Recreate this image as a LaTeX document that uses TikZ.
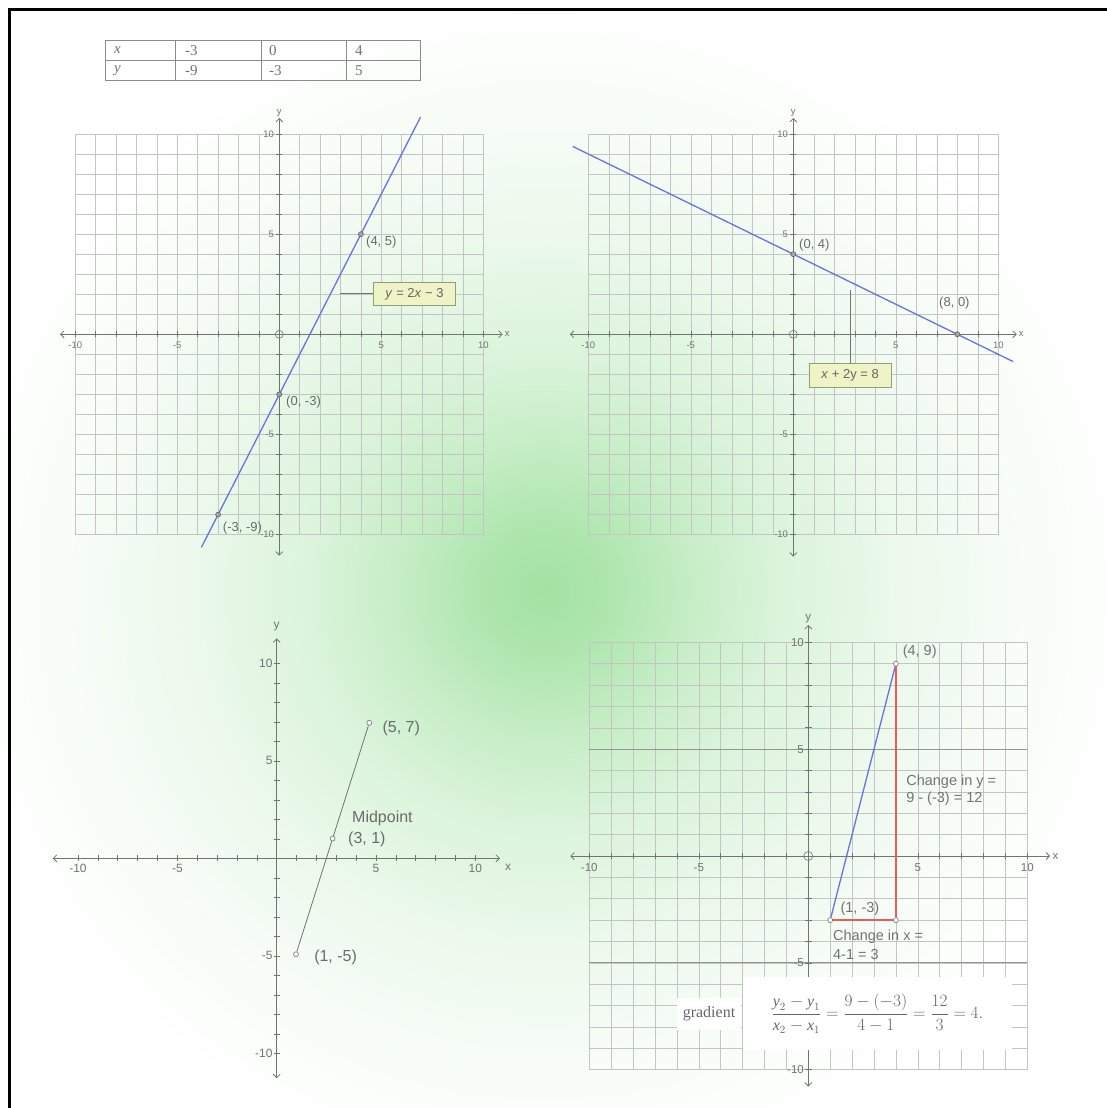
\documentclass[tikz,border=0pt]{standalone}
\usepackage{fontspec}
\usepackage{amsmath}
\setmainfont{Liberation Serif}
\newfontfamily\arial{Liberation Sans}
\usetikzlibrary{arrows.meta}
\definecolor{glowc}{RGB}{162,226,162}
\colorlet{glowa}{glowc!85!white}
\colorlet{glowb}{glowc!62!white}
\colorlet{glowd}{glowc!38!white}
\colorlet{glowe}{glowc!20!white}
\colorlet{glowf}{glowc!8!white}
\definecolor{lblue}{RGB}{105,115,225}
\definecolor{lred}{RGB}{238,90,90}
\definecolor{boxfill}{RGB}{238,244,198}
\definecolor{boxdraw}{RGB}{150,155,120}
\pgfdeclareradialshading{glow}{\pgfpoint{0bp}{0bp}}{color(0bp)=(glowc); color(3bp)=(glowa); color(6bp)=(glowb); color(10bp)=(glowd); color(15bp)=(glowe); color(20bp)=(glowf); color(25bp)=(white); color(50bp)=(white)}
\tikzset{
  gridline/.style={draw=black!23, line width=0.55pt},
  majgrid/.style={draw=black!42, line width=0.8pt},
  axisline/.style={draw=black!55, line width=0.8pt, {Straight Barb[length=3.5pt,width=7pt]}-{Straight Barb[length=3.5pt,width=7pt]}},
  tickmark/.style={draw=black!55, line width=0.6pt},
  ticklbl/.style={text=black!55, inner sep=1pt, font=\arial\fontsize{9.5}{10}\selectfont},
  ticklbl3/.style={text=black!55, inner sep=1pt, font=\arial\fontsize{12}{13}\selectfont},
  ticklbl4/.style={text=black!55, inner sep=1pt, font=\arial\fontsize{11.5}{12}\selectfont},
  ptlbl/.style={text=black!58, inner sep=1pt, anchor=west, font=\arial\fontsize{13}{14}\selectfont},
  ptlbl3/.style={text=black!58, inner sep=1pt, anchor=west, font=\arial\fontsize{16}{17}\selectfont},
  ptlbl4/.style={text=black!55, inner sep=1pt, anchor=west, font=\arial\fontsize{14.5}{15}\selectfont},
  dotpt/.style={circle, draw=black!62, fill=black!35, line width=0.6pt, inner sep=0pt, minimum size=5pt},
  opt/.style={circle, draw=black!55, fill=white, line width=0.6pt, inner sep=0pt, minimum size=5pt},
  eqbox/.style={draw=boxdraw, fill=boxfill, line width=0.6pt, inner sep=2pt, text=black!60, font=\arial\fontsize{13}{14}\selectfont},
  conn/.style={draw=black!55, line width=0.7pt},
  blueline/.style={draw=lblue, line width=1.3pt},
  redline/.style={draw=lred, line width=1.5pt},
  segline/.style={draw=black!55, line width=0.8pt},
  tabline/.style={draw=black!45, line width=0.8pt},
  tabtxt/.style={text=black!55, anchor=west, inner sep=1pt, font=\fontsize{15}{16}\selectfont}
}
\begin{document}
\begin{tikzpicture}[x=1pt,y=-1pt]
\useasboundingbox (0,0) rectangle (1107,1108);
\fill[white] (0,0) rectangle (1107,1108);
\begin{scope}
  \clip (0,0) rectangle (1107,1108);
  \shade[shading=glow] (545,590) circle (600);
\end{scope}
% frame
\draw[line width=2.7pt, black] (9.3,1108) -- (9.3,9.3) -- (1107,9.3);

% table
\draw[tabline] (105,40) rectangle (420,80);
\draw[tabline] (105,60) -- (420,60);
\foreach \cx in {175,261.7,346.7} \draw[tabline] (\cx,40) -- (\cx,80);
\node[tabtxt] (t11) at (113,50.5) {\textit{x}};
\node[tabtxt] (t12) at (184,50.5) {-3};
\node[tabtxt] (t13) at (268,50.5) {0};
\node[tabtxt] (t14) at (354,50.5) {4};
\node[tabtxt] (t21) at (113,70.5) {\textit{y}};
\node[tabtxt] (t22) at (184,70.5) {-9};
\node[tabtxt] (t23) at (268,70.5) {-3};
\node[tabtxt] (t24) at (354,70.5) {5};

% ---------- graph 1 ----------
\begin{scope}[shift={(279.3,334.3)}, x=20.4pt, y=20.03pt]
  \foreach \i in {-10,...,10} {\draw[gridline] (\i,-10) -- (\i,10); \draw[gridline] (-10,\i) -- (10,\i);}
  \draw[axisline] (-10.75,0) -- (10.95,0);
  \draw[axisline] (0,-11.05) -- (0,10.8);
  \foreach \i in {-10,...,10} {\draw[tickmark] (\i,-0.15) -- (\i,0.15); \draw[tickmark] (-0.15,\i) -- (0.15,\i);}
  \draw[tickmark] (0,0) circle[radius=4pt];
  \foreach \v [count=\k] in {-10,-5,5,10} {
    \node[ticklbl, anchor=north] (g1x\k) at (\v,-0.3) {\v};
    \node[ticklbl, anchor=east] (g1y\k) at (-0.2,\v) {\v};
  }
  \node[ticklbl, anchor=west] (g1xn) at (11.0,0) {x};
  \node[ticklbl, anchor=south] (g1yn) at (0,10.8) {y};
  \draw[blueline] (-3.82,-10.64) -- (6.92,10.84);
  \node[dotpt] (g1a) at (4,5) {};
  \node[dotpt] (g1b) at (0,-3) {};
  \node[dotpt] (g1c) at (-3,-9) {};
  \node[ptlbl] (g1la) at (4.2,4.62) {(4, 5)};
  \node[ptlbl] (g1lb) at (0.28,-3.41) {(0, -3)};
  \node[ptlbl] (g1lc) at (-2.82,-9.69) {(-3, -9)};
  \node[eqbox, minimum width=81.7pt, minimum height=23.3pt] (g1eq) at (6.63,2.02) {\textit{y} = 2\textit{x} − 3};
  \coordinate (g1cn) at (2.98,2.02);
  \draw[conn] (g1cn) -- (g1eq.west);
\end{scope}

% ---------- graph 2 ----------
\begin{scope}[shift={(793.3,334.3)}, x=20.5pt, y=20.03pt]
  \foreach \i in {-10,...,10} {\draw[gridline] (\i,-10) -- (\i,10); \draw[gridline] (-10,\i) -- (10,\i);}
  \draw[axisline] (-10.9,0) -- (10.9,0);
  \draw[axisline] (0,-11.1) -- (0,10.8);
  \foreach \i in {-10,...,10} {\draw[tickmark] (\i,-0.15) -- (\i,0.15); \draw[tickmark] (-0.15,\i) -- (0.15,\i);}
  \draw[tickmark] (0,0) circle[radius=4pt];
  \foreach \v [count=\k] in {-10,-5,5,10} {
    \node[ticklbl, anchor=north] (g2x\k) at (\v,-0.3) {\v};
    \node[ticklbl, anchor=east] (g2y\k) at (-0.2,\v) {\v};
  }
  \node[ticklbl, anchor=west] (g2xn) at (10.95,0) {x};
  \node[ticklbl, anchor=south] (g2yn) at (0,10.8) {y};
  \draw[blueline] (-10.76,9.38) -- (10.73,-1.365);
  \node[dotpt] (g2a) at (0,4) {};
  \node[dotpt] (g2b) at (8,0) {};
  \node[ptlbl] (g2la) at (0.23,4.46) {(0, 4)};
  \node[ptlbl] (g2lb) at (7.06,1.55) {(8, 0)};
  \node[eqbox, minimum width=81.7pt, minimum height=24pt] (g2eq) at (2.77,-2.05) {\textit{x} + 2y = 8};
  \coordinate (g2cn) at (2.8,2.21);
  \draw[conn] (g2cn) -- (g2cn |- g2eq.north);
\end{scope}

% ---------- graph 3 ----------
\begin{scope}[shift={(276.7,858.3)}, x=19.87pt, y=19.5pt]
  \draw[axisline] (-11.27,0) -- (11.24,0);
  \draw[axisline] (0,-11.28) -- (0,11.28);
  \foreach \i in {-10,...,10} {\draw[tickmark] (\i,-0.15) -- (\i,0.15); \draw[tickmark] (-0.15,\i) -- (0.15,\i);}
  \foreach \v [count=\k] in {-10,-5,5,10} {
    \node[ticklbl3, anchor=north] (g3x\k) at (\v,-0.25) {\v};
    \node[ticklbl3, anchor=east] (g3y\k) at (-0.15,\v) {\v};
  }
  \node[ticklbl3] (g3xn) at (11.65,-0.45) {x};
  \node[ticklbl3] (g3yn) at (0,11.9) {y};
  \node[opt] (g3a) at (0.97,-4.92) {};
  \node[opt] (g3b) at (4.66,6.95) {};
  \node[opt] (g3m) at (2.815,1.015) {};
  \draw[segline] (g3a) -- (g3m);
  \draw[segline] (g3m) -- (g3b);
  \node[ptlbl3] (g3lb) at (5.27,6.68) {(5, 7)};
  \node[ptlbl3] (g3lm) at (3.74,2.05) {Midpoint};
  \node[ptlbl3] (g3lm2) at (3.54,0.96) {(3, 1)};
  \node[ptlbl3] (g3la) at (1.83,-5.1) {(1, -5)};
\end{scope}

% ---------- graph 4 ----------
\begin{scope}[shift={(808.3,856)}, x=21.9pt, y=21.37pt]
  \foreach \i in {-10,...,10} {\draw[gridline] (\i,-10) -- (\i,10); \draw[gridline] (-10,\i) -- (10,\i);}
  \draw[majgrid] (-10,5) -- (10,5);
  \draw[majgrid] (-10,-5) -- (10,-5);
  \draw[axisline] (-10.87,0) -- (11.04,0);
  \draw[axisline] (0,-10.79) -- (0,10.81);
  \foreach \i in {-10,...,10} {\draw[tickmark] (\i,-0.15) -- (\i,0.15); \draw[tickmark] (-0.15,\i) -- (0.15,\i);}
  \draw[tickmark] (0,0) circle[radius=4.5pt];
  \foreach \v [count=\k] in {-10,-5,5,10} {
    \node[ticklbl4, anchor=north] (g4x\k) at (\v,-0.3) {\v};
    \node[ticklbl4, anchor=east] (g4y\k) at (-0.15,\v) {\v};
  }
  \node[ticklbl4, anchor=west] (g4xn) at (11.1,0) {x};
  \node[ticklbl4, anchor=south] (g4yn) at (0,10.85) {y};
  \node[opt] (g4a) at (1,-3) {};
  \node[opt] (g4b) at (4,9) {};
  \node[opt] (g4c) at (4,-3) {};
  \draw[blueline] (g4a) -- (g4b);
  \draw[redline] (g4b) -- (g4c);
  \draw[redline] (g4a) -- (g4c);
  \node[ptlbl4] (g4lb) at (4.26,9.56) {(4, 9)};
  \node[ptlbl4] (g4la) at (1.42,-2.49) {(1, -3)};
  \node[ptlbl4] (g4cy1) at (4.42,3.48) {Change in y =};
  \node[ptlbl4] (g4cy2) at (4.42,2.67) {9 - (-3) = 12};
  \node[ptlbl4] (g4cx1) at (1.08,-3.78) {Change in x =};
  \node[ptlbl4] (g4cx2) at (1.08,-4.63) {4-1 = 3};
\end{scope}

% gradient formula
\node[fill=white, minimum width=64pt, minimum height=32pt, inner sep=0pt, text=black!60, font=\fontsize{16}{18}\selectfont] (ggrad) at (709,1014) {gradient};
\node[fill=white, minimum width=269pt, minimum height=73pt, inner sep=0pt, text=black!60, font=\fontsize{16}{18}\selectfont] (gform) at (877.5,1013.5)
  {$\displaystyle\frac{\textit{y}_2-\textit{y}_1}{\textit{x}_2-\textit{x}_1}=\frac{9-(-3)}{4-1}=\frac{12}{3}=4.$};
\end{tikzpicture}
\end{document}
